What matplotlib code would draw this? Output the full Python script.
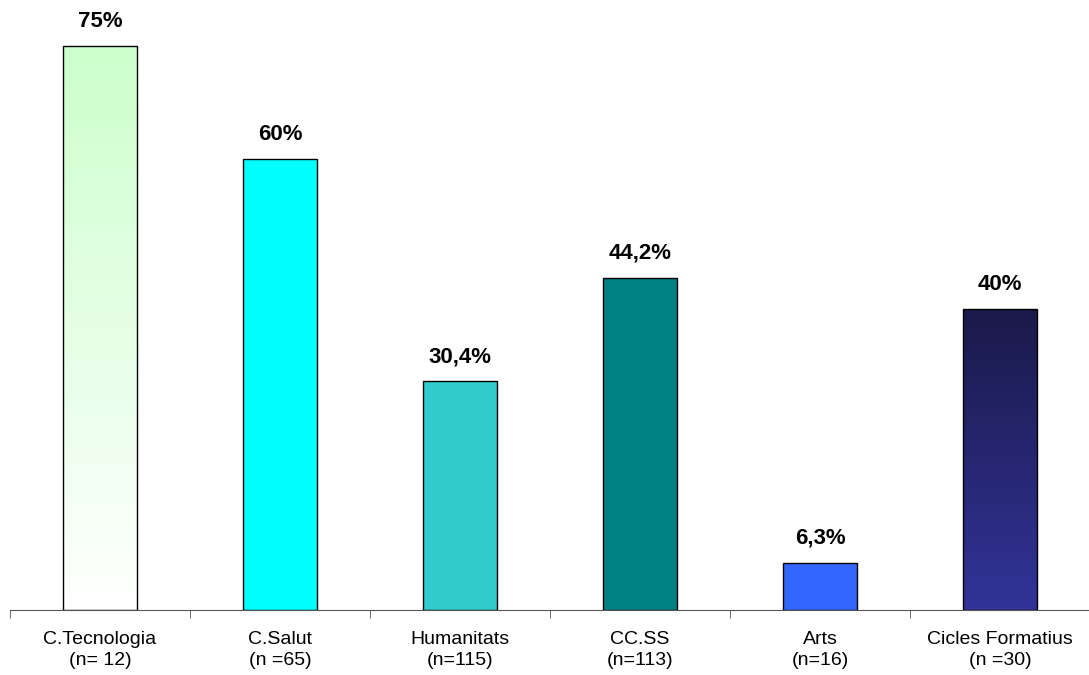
import numpy as np
import matplotlib.pyplot as plt
from matplotlib.colors import LinearSegmentedColormap

plt.rcParams['font.family'] = ['Liberation Sans', 'DejaVu Sans']

categories = ['C.Tecnologia\n(n= 12)', 'C.Salut\n(n =65)', 'Humanitats\n(n=115)',
              'CC.SS\n(n=113)', 'Arts\n(n=16)', 'Cicles Formatius\n(n =30)']
values = [75, 60, 30.4, 44.2, 6.3, 40]
value_labels = ['75%', '60%', '30,4%', '44,2%', '6,3%', '40%']
colors = ['#CCFFCC', '#00FFFF', '#33CCCC', '#008080', '#3366FF', '#333399']
# gradients (bottom colour, top colour) for the bars that have one
gradients = {0: ('#FFFFFF', '#CCFFCC'), 5: ('#333399', '#1A1A4A')}

fig = plt.figure(figsize=(10.89, 6.75), dpi=100)
ax = fig.add_axes([10 / 1089, 65 / 675, 1080 / 1089, 610 / 675])

x = np.arange(len(categories))
bars = ax.bar(x, values, width=0.41, color=colors, edgecolor='black', linewidth=1, zorder=2)

# gradient fill clipped to the bar shape
for i, (c0, c1) in gradients.items():
    b = bars[i]
    b.set_facecolor('none')
    cmap = LinearSegmentedColormap.from_list('g%d' % i, [c0, c1])
    grad = np.linspace(0, 1, 256).reshape(-1, 1)
    im = ax.imshow(grad, cmap=cmap, origin='lower', aspect='auto',
                   extent=[b.get_x(), b.get_x() + b.get_width(), 0, b.get_height()], zorder=1)
    im.set_clip_path(b)

ax.set_xlim(-0.5, len(categories) - 0.5)
ax.set_ylim(0, 81.1)

for xi, v, lab in zip(x, values, value_labels):
    ax.annotate(lab, (xi, v), xytext=(0, 10), textcoords='offset points',
                ha='center', va='bottom', fontsize=16, fontweight='bold')

for s in ['top', 'right', 'left']:
    ax.spines[s].set_visible(False)
ax.spines['bottom'].set_color('#555555')
ax.set_yticks([])

ax.set_xticks(x)
ax.set_xticklabels(categories, fontsize=14, linespacing=1.35)
ax.tick_params(axis='x', which='major', length=0, pad=15)
ax.set_xticks(np.arange(-0.5, len(categories)), minor=True)
ax.tick_params(axis='x', which='minor', length=6, color='#555555', direction='out')

fig.savefig('out.png', dpi=100)
